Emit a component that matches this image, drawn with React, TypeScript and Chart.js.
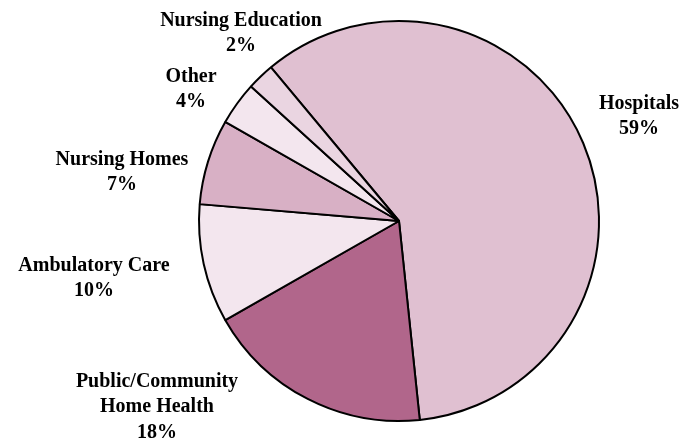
import React, { useEffect, useRef } from "react";
import { Chart, registerables } from "chart.js";

Chart.register(...registerables);

const categories: string[][] = [
  ["Hospitals"],
  ["Public/Community", "Home Health"],
  ["Ambulatory Care"],
  ["Nursing Homes"],
  ["Other"],
  ["Nursing Education"],
];
const shares: number[] = [59.4, 18.4, 9.6, 6.9, 3.5, 2.2];
const sliceColors: string[] = ["#E0C0D1", "#B1668B", "#F3E6EE", "#D8B0C5", "#F3E6EE", "#EAD5E1"];

// label anchor offsets relative to pie centre (x = text centre, y = first baseline)
const labelOffsets: [number, number][] = [
  [240, -112],
  [-242, 166],
  [-305, 50],
  [-277, -56],
  [-208, -139],
  [-158, -195],
];
const LINE_H = 25.3;

const labelPlugin = {
  id: "outerLabels",
  afterDraw(chart: any) {
    const ctx = chart.ctx;
    const meta = chart.getDatasetMeta(0);
    const data = chart.data.datasets[0].data as number[];
    ctx.save();
    ctx.fillStyle = "#000";
    ctx.font = "bold 20px 'Liberation Serif', 'Times New Roman', serif";
    ctx.textAlign = "center";
    ctx.textBaseline = "alphabetic";
    meta.data.forEach((arc: any, i: number) => {
      const cx = arc.x + labelOffsets[i][0];
      let cy = arc.y + labelOffsets[i][1];
      const lines = [...categories[i], Math.round(data[i]) + "%"];
      lines.forEach((t) => {
        ctx.fillText(t, cx, cy);
        cy += LINE_H;
      });
    });
    ctx.restore();
  },
};

export default function App() {
  const ref = useRef<HTMLCanvasElement>(null);
  useEffect(() => {
    if (!ref.current) return;
    const chart = new Chart(ref.current, {
      type: "pie",
      data: {
        labels: categories.map((c) => c.join(" ")),
        datasets: [
          {
            data: shares,
            backgroundColor: sliceColors,
            borderColor: "#000",
            borderWidth: 2,
            hoverOffset: 0,
          },
        ],
      },
      options: {
        animation: false,
        responsive: true,
        maintainAspectRatio: false,
        rotation: -39.8,
        radius: 200,
        layout: { padding: { left: 113, right: 0, top: 2, bottom: 0 } },
        plugins: {
          legend: { display: false },
          tooltip: { enabled: false },
        },
      },
      plugins: [labelPlugin],
    });
    return () => chart.destroy();
  }, []);
  return (
    <div style={{ position: "absolute", left: 0, top: 0, width: 685, height: 440 }}>
      <canvas ref={ref} />
    </div>
  );
}
